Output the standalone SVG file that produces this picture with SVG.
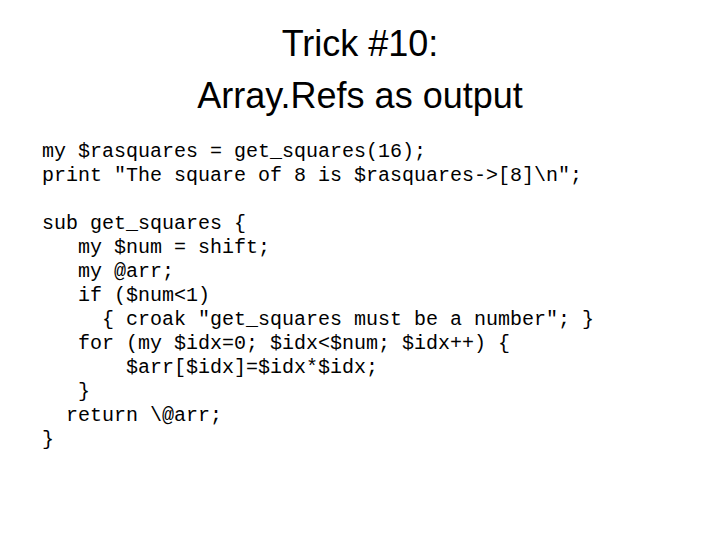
<svg xmlns="http://www.w3.org/2000/svg" width="720" height="540" viewBox="0 0 720 540">
<style>
.t{font-family:"Liberation Sans",Arial,sans-serif;font-size:36px;fill:#000;text-anchor:middle}
.c{font-family:"Liberation Mono","Courier New",monospace;font-size:20px;fill:#000;white-space:pre}
</style>
<rect width="720" height="540" fill="#fff"/>
<g id="title">
<text class="t" x="360" y="56">Trick #10:</text>
<text class="t" x="360" y="108">Array.Refs as output</text>
</g>
<g id="code" xml:space="preserve">
<text class="c" x="42" y="157">my $rasquares = get_squares(16);</text>
<text class="c" x="42" y="181">print "The square of 8 is $rasquares-&gt;[8]\n";</text>
<text class="c" x="42" y="229">sub get_squares {</text>
<text class="c" x="42" y="253">   my $num = shift;</text>
<text class="c" x="42" y="277">   my @arr;</text>
<text class="c" x="42" y="301">   if ($num&lt;1)</text>
<text class="c" x="42" y="325">     { croak "get_squares must be a number"; }</text>
<text class="c" x="42" y="349">   for (my $idx=0; $idx&lt;$num; $idx++) {</text>
<text class="c" x="42" y="373">       $arr[$idx]=$idx*$idx;</text>
<text class="c" x="42" y="397">   }</text>
<text class="c" x="42" y="421">  return \@arr;</text>
<text class="c" x="42" y="445">}</text>
</g>
</svg>
